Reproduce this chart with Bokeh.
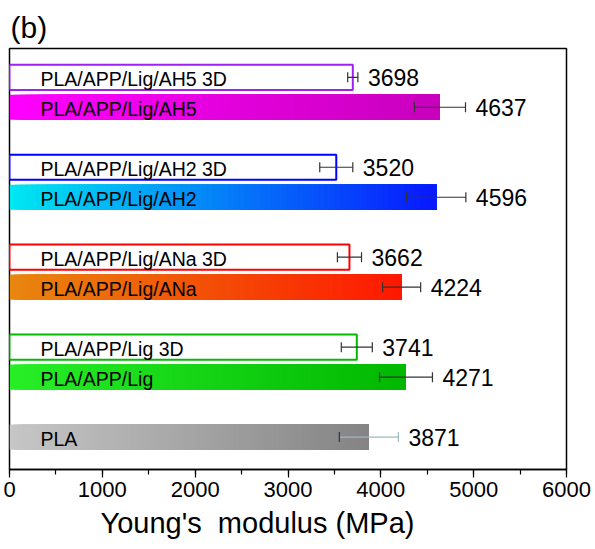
from bokeh.plotting import figure
from bokeh.models import (Range1d, FixedTicker, Whisker, TeeHead, ColumnDataSource,
                          Title)
from bokeh.core.properties import value
from bokeh.embed import file_html
from bokeh.resources import INLINE

# Young's modulus (MPa) of moulded and 3D-printed samples
samples = ["PLA", "PLA/APP/Lig", "PLA/APP/Lig/ANa", "PLA/APP/Lig/AH2", "PLA/APP/Lig/AH5"]
modulus = [3871, 4271, 4224, 4596, 4637]
modulus_err = [318, 285, 205, 320, 275]
modulus_3d = [None, 3741, 3662, 3520, 3698]
modulus_3d_err = [None, 167, 130, 178, 55]

# gradient end colours for the solid bars, outline colours for the 3D bars
grad_left = ["#c6c6c6", "#28ee28", "#e8860e", "#00e6f2", "#ff00ff"]
grad_right = ["#848484", "#00b800", "#ff1800", "#0818ff", "#c800bc"]
outline_3d = [None, "#00bb00", "#ff0000", "#0000ff", "#a020f0"]
err_color = ["#9fb8c2", "#333333", "#333333", "#333333", "#333333"]

FONT = "Liberation Sans"
BAR_H = 0.84
N_SLICES = 80


def hex_rgb(h):
    h = h.lstrip("#")
    return tuple(int(h[i:i + 2], 16) for i in (0, 2, 4))


def mix(c1, c2, t):
    a, b = hex_rgb(c1), hex_rgb(c2)
    return "#%02x%02x%02x" % tuple(round(a[k] + (b[k] - a[k]) * t) for k in range(3))


# row positions: PLA alone at the bottom, then pairs (solid, 3D) per group
def row_solid(g):
    return 0 if g == 0 else 3 * g - 1


def row_3d(g):
    return 3 * g


p = figure(width=595, height=549, output_backend="svg", toolbar_location=None,
           x_range=Range1d(0, 6000), y_range=Range1d(-1.08, 12.96),
           min_border_left=9, min_border_right=29, min_border_top=48, min_border_bottom=80)

p.background_fill_color = "white"
p.border_fill_color = "white"
p.outline_line_color = "black"
p.outline_line_width = 1.5
p.grid.visible = False
p.yaxis.visible = False

# solid bars with a left-to-right colour gradient
for g, v in enumerate(modulus):
    y = row_solid(g)
    lefts = [v * i / N_SLICES for i in range(N_SLICES)]
    cols = [mix(grad_left[g], grad_right[g], i / (N_SLICES - 1)) for i in range(N_SLICES)]
    src = ColumnDataSource(dict(y=[y] * N_SLICES, left=lefts, right=[v] * N_SLICES, c=cols))
    p.hbar(y="y", left="left", right="right", height=BAR_H, fill_color="c",
           line_color=None, source=src)

# open (outlined) bars for the 3D-printed samples
for g, v in enumerate(modulus_3d):
    if v is None:
        continue
    p.hbar(y=[row_3d(g)], left=[0], right=[v], height=BAR_H, fill_color="white",
           line_color=outline_3d[g], line_width=2)


# error bars drawn on top of the bars
def add_errors(vals, errs, rows):
    for g, (v, e) in enumerate(zip(vals, errs)):
        if v is None:
            continue
        src = ColumnDataSource(dict(base=[rows(g)], lower=[v - e], upper=[v + e]))
        c = err_color[g]
        p.add_layout(Whisker(source=src, base="base", lower="lower", upper="upper",
                             dimension="width", line_color=c, line_width=1.2,
                             level="overlay",
                             lower_head=TeeHead(size=10, line_color="#333333", line_width=1.2),
                             upper_head=TeeHead(size=10, line_color=c, line_width=1.2)))


add_errors(modulus, modulus_err, row_solid)
add_errors(modulus_3d, modulus_3d_err, row_3d)

# sample names inside the bars
name_y, name_txt = [], []
for g, s in enumerate(samples):
    name_y.append(row_solid(g))
    name_txt.append(s)
    if modulus_3d[g] is not None:
        name_y.append(row_3d(g))
        name_txt.append(s + " 3D")
p.text(x=[0] * len(name_y), y=name_y, text=name_txt, x_offset=31, y_offset=2,
       text_font=value(FONT), text_font_size="19.5px", text_baseline="middle",
       text_color="black")

# value labels right of the error bars
val_x, val_y, val_txt = [], [], []
for g in range(len(samples)):
    val_x.append(modulus[g] + modulus_err[g])
    val_y.append(row_solid(g))
    val_txt.append(str(modulus[g]))
    if modulus_3d[g] is not None:
        val_x.append(modulus_3d[g] + modulus_3d_err[g])
        val_y.append(row_3d(g))
        val_txt.append(str(modulus_3d[g]))
p.text(x=val_x, y=val_y, text=val_txt, x_offset=10, text_font=value(FONT),
       text_font_size="23px", text_baseline="middle", text_color="black")

# x axis
ax = p.xaxis[0]
ax.ticker = FixedTicker(ticks=list(range(0, 6001, 1000)),
                        minor_ticks=list(range(0, 6001, 500)))
ax.axis_line_width = 1.5
ax.major_tick_in = 0
ax.major_tick_out = 8
ax.minor_tick_in = 0
ax.minor_tick_out = 5
ax.major_tick_line_width = 1.2
ax.minor_tick_line_width = 1.2
ax.major_label_text_font = FONT
ax.major_label_text_font_size = "22px"
ax.major_label_text_color = "black"
ax.major_label_standoff = 4

p.add_layout(Title(text="Young's\u00a0 modulus (MPa)", align="left", offset=91,
                   text_font=FONT, text_font_size="29px", text_font_style="normal",
                   text_color="black", standoff=10), "below")

p.title.text = "(b)"
p.title.align = "left"
p.title.offset = 1
p.title.text_font = FONT
p.title.text_font_size = "30px"
p.title.text_font_style = "normal"
p.title.text_color = "black"

open("out.html", "w").write(file_html(p, INLINE))
